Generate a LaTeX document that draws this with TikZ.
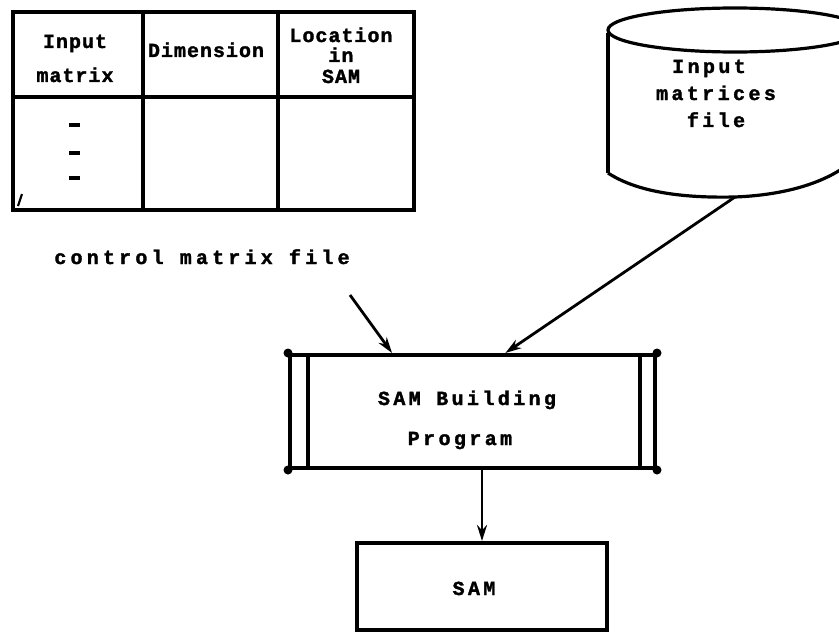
\documentclass[tikz,border=0pt]{standalone}
\usepackage{fontspec}
\usetikzlibrary{arrows.meta,calc}
% heavy typewriter faces: tight for the table header, spaced for the other labels
\newfontfamily\hdrfont[LetterSpace=5, BoldFeatures={FakeBold=1.6}]{Liberation Mono}
\newfontfamily\widefont[LetterSpace=17, BoldFeatures={FakeBold=1.6}]{Liberation Mono}
\newfontfamily\widerfont[LetterSpace=21, BoldFeatures={FakeBold=1.6}]{Liberation Mono}

\tikzset{
  hdr/.style={font=\hdrfont\bfseries\fontsize{20}{20}\selectfont, inner sep=0pt, anchor=base},
  lbl/.style={font=\widefont\bfseries\fontsize{20}{20}\selectfont, inner sep=0pt, anchor=base},
  rule/.style={line width=4pt, line cap=round},
  arr/.style={line width=2.8pt, -{Stealth[length=16pt,width=10pt]}},
  boxed/.style={draw, line width=4pt, rectangle, inner sep=0pt},
  blob/.style={circle, fill, inner sep=0pt, minimum size=9pt},
}

\begin{document}
\begin{tikzpicture}[x=1pt,y=-1pt]
\useasboundingbox (0,0) rectangle (839,634);

% ---- control matrix table ----
\draw[rule] (13,12) rectangle (414,210);
\draw[rule] (143,12) -- (143,210);
\draw[rule] (278,12) -- (278,210);
\draw[rule] (13,97) -- (414,97);
\node[hdr] (h1a) at (75,48) {Input};
\node[hdr] (h1b) at (75,82) {matrix};
\node[hdr] (h2)  at (206,57) {Dimension};
\node[hdr] (h3a) at (341,42) {Location};
\node[hdr] (h3b) at (341,62) {in};
\node[hdr] (h3c) at (341,83) {SAM};
\foreach \yy in {125,153,178} \draw[line width=3.5pt] (69,\yy) -- (80,\yy);
\draw[line width=2.2pt] (18,206) -- (22,194);

\node[lbl, font=\widerfont\bfseries\fontsize{20}{20}\selectfont] (ctrl) at (202,264) {control matrix file};

% ---- input matrices file (disk) ----
\draw[line width=4pt] (608,33) -- (608,173);
\draw[line width=3.2pt] (735,30) ellipse [x radius=127, y radius=22];
\draw[line width=3.2pt] (608,173) .. controls (640,194) and (690,198) .. (735,197)
  .. controls (785,195) and (825,183) .. (850,163);
\node[lbl] (disk1) at (709,73) {Input};
\node[lbl] (disk2) at (716,100) {matrices};
\node[lbl] (disk3) at (716,127) {file};
\coordinate (diskout) at (735,197);

% ---- SAM building program ----
\node[boxed, minimum width=365pt, minimum height=113pt] (proc) at (472.5,411.5) {};
\draw[line width=4pt] ($(proc.north west)+(20,0)$) -- ($(proc.south west)+(20,0)$);
\draw[line width=4pt] ($(proc.north east)+(-17,0)$) -- ($(proc.south east)+(-17,0)$);
\foreach \c in {north west,north east,south west,south east} \node[blob] at (proc.\c) {};
\node[lbl] (p1) at (467,405) {SAM Building};
\node[lbl] (p2) at (460,445) {Program};

% ---- SAM ----
\node[boxed, minimum width=250pt, minimum height=87pt] (sam) at (482,586.5) {};
\node[lbl] (s1) at (474,595) {SAM};

% ---- connectors ----
\coordinate (ctrlout) at (350,295);
\draw[arr] (ctrlout) -- ($(proc.north west)!0.282!(proc.north east)$);
\draw[arr] (diskout) -- ($(proc.north west)!0.589!(proc.north east)$);
\draw[arr] (sam.north |- proc.south) -- (sam.north);
\end{tikzpicture}
\end{document}
